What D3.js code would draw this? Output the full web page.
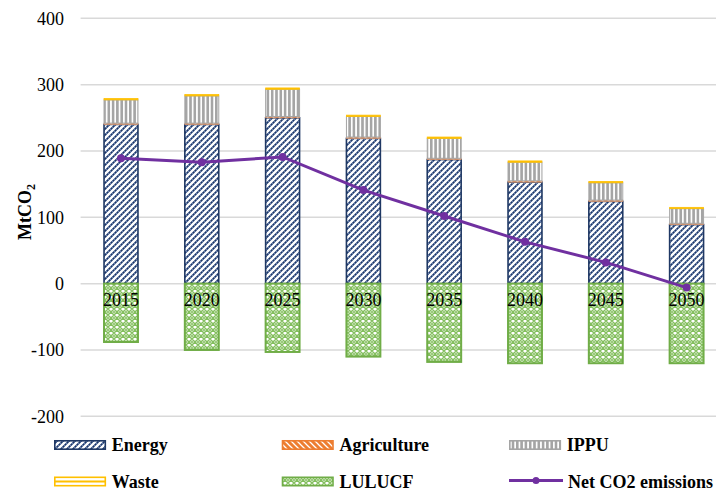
<!DOCTYPE html>
<html><head><meta charset="utf-8">
<script src="https://cdn.jsdelivr.net/npm/d3@7"></script>
<style>body{margin:0;background:#fff}svg{display:block}</style>
</head><body><svg id="c" width="716" height="493"></svg>
<script>
const years = ["2015","2020","2025","2030","2035","2040","2045","2050"];
const energy = [240, 240, 250, 219, 187, 153, 124, 89];
const agriculture = [2, 2, 2, 2, 2, 2, 2, 2];
const ippu = [35, 41, 41, 31, 30, 28, 26, 22];
const waste = [2, 2, 2, 2, 2, 2, 2, 2];
const lulucf = [-88, -100, -103, -110, -118, -120, -120, -120];
const netCO2 = [189, 183, 191, 141, 102, 63, 32, -6];
const yTicks = [400, 300, 200, 100, 0, -100, -200];
const seriesNames = ["Energy","Agriculture","IPPU","Waste","LULUCF","Net CO2 emissions"];

const svg = d3.select("#c");
const serif = "'Liberation Serif','Times New Roman',serif";
const defs = svg.append("defs");

// Energy pattern: "/" diagonal dashed-navy lines
let p = defs.append("pattern").attr("id","pEnergy").attr("patternUnits","userSpaceOnUse").attr("width",6).attr("height",6);
p.append("rect").attr("width",6).attr("height",6).attr("fill","#fff");
p.append("path").attr("d","M-1,7 L7,-1 M-4,4 L4,-4 M2,10 L10,2").attr("stroke","#6a83b5").attr("stroke-width",1.8);
p.append("path").attr("d","M-1,7 L7,-1 M-4,4 L4,-4 M2,10 L10,2").attr("stroke","#1F3864").attr("stroke-width",1.8).attr("stroke-dasharray","1.6,1.2");
// Agriculture
p = defs.append("pattern").attr("id","pAgri").attr("patternUnits","userSpaceOnUse").attr("width",6).attr("height",6);
p.append("rect").attr("width",6).attr("height",6).attr("fill","#ED7D31");
p.append("path").attr("d","M-1,-1 L7,7 M-4,2 L2,8 M2,-4 L8,2").attr("stroke","#fff").attr("stroke-width",1.3);
// IPPU
p = defs.append("pattern").attr("id","pIppu").attr("patternUnits","userSpaceOnUse").attr("width",4.3).attr("height",4);
p.append("rect").attr("width",4.3).attr("height",4).attr("fill","#fff");
p.append("rect").attr("width",2.6).attr("height",4).attr("fill","#a5a5a5");
// LULUCF
p = defs.append("pattern").attr("id","pLulucf").attr("patternUnits","userSpaceOnUse").attr("width",6).attr("height",6);
p.append("rect").attr("width",6).attr("height",6).attr("fill","#fff");
p.append("path").attr("d","M0,3 L3,0 L6,3 L3,6 Z").attr("fill","none").attr("stroke","#84bf5f").attr("stroke-width",1.5);
[[0,0],[6,0],[0,6],[6,6]].forEach(c=>p.append("circle").attr("cx",c[0]).attr("cy",c[1]).attr("r",1.1).attr("fill","#84bf5f"));

const y = d3.scaleLinear().domain([-200,400]).range([416.3,18.3]);
const x = d3.scaleBand().domain(years).range([80.6,727]).paddingInner(0.58).paddingOuter(0.29);

// grid
svg.append("g").selectAll("line").data(yTicks).join("line")
  .attr("x1",80.6).attr("x2",716).attr("y1",d=>y(d)).attr("y2",d=>y(d))
  .attr("stroke","#d9d9d9").attr("stroke-width",1.5);

// y labels
svg.append("g").selectAll("text").data(yTicks).join("text")
  .attr("x",64).attr("y",d=>y(d)).attr("dy","0.35em").attr("text-anchor","end")
  .attr("font-family",serif).attr("font-size",18).attr("fill","#000").text(d=>d);

// y title
const yt = svg.append("text").attr("transform","translate(31,212) rotate(-90)")
  .attr("text-anchor","middle").attr("font-family",serif).attr("font-size",18).attr("font-weight","bold");
yt.append("tspan").text("MtCO");
yt.append("tspan").attr("font-size",12).attr("dy",4).text("2");

// stacked positives
const stackSeries = [
  {vals: energy, fill:"url(#pEnergy)", stroke:"#1F3864", sw:1.6},
  {vals: agriculture, fill:"url(#pAgri)", stroke:"#d99a74", sw:0.8},
  {vals: ippu, fill:"url(#pIppu)", stroke:"#a5a5a5", sw:1},
  {vals: waste, fill:"#FFC000", stroke:"#FFC000", sw:0.8}
];
const bw = x.bandwidth();
const base = years.map(()=>0);
stackSeries.forEach(s=>{
  const starts = base.slice();
  svg.append("g").selectAll("rect").data(years).join("rect")
    .attr("x",d=>x(d)).attr("width",bw)
    .attr("y",(d,i)=>y(starts[i]+s.vals[i])).attr("height",(d,i)=>y(starts[i])-y(starts[i]+s.vals[i]))
    .attr("fill",s.fill).attr("stroke",s.stroke).attr("stroke-width",s.sw);
  years.forEach((d,i)=>base[i]+=s.vals[i]);
});
// LULUCF
svg.append("g").selectAll("rect").data(years).join("rect")
  .attr("x",d=>x(d)).attr("width",bw)
  .attr("y",y(0)).attr("height",(d,i)=>y(lulucf[i])-y(0))
  .attr("fill","url(#pLulucf)").attr("stroke","#70AD47").attr("stroke-width",2);

// x labels
svg.append("g").selectAll("text").data(years).join("text")
  .attr("x",d=>x(d)+bw/2).attr("y",y(0)+22).attr("text-anchor","middle")
  .attr("font-family",serif).attr("font-size",18).attr("fill","#000").text(d=>d);

// net line
const line = d3.line().x((d,i)=>x(years[i])+bw/2).y(d=>y(d));
svg.append("path").datum(netCO2).attr("d",line).attr("fill","none").attr("stroke","#7030A0").attr("stroke-width",3);
svg.append("g").selectAll("circle").data(netCO2).join("circle")
  .attr("cx",(d,i)=>x(years[i])+bw/2).attr("cy",d=>y(d)).attr("r",4).attr("fill","#7030A0");

// legend
const legPos = [[54,445],[281.7,445],[509,445],[54,481.5],[281.7,481.5],[509,481.5]];
const lg = svg.append("g");
seriesNames.forEach((n,i)=>{
  const [lx,ly]=legPos[i];
  const g = lg.append("g");
  if(i===0) g.append("rect").attr("x",lx+0.8).attr("y",ly-4.2).attr("width",50.5).attr("height",8.4).attr("fill","url(#pEnergy)").attr("stroke","#1F3864").attr("stroke-width",1.6);
  if(i===1) g.append("rect").attr("x",lx+0.8).attr("y",ly-4.2).attr("width",50.5).attr("height",8.4).attr("fill","url(#pAgri)").attr("stroke","#ED7D31").attr("stroke-width",1.6);
  if(i===2) g.append("rect").attr("x",lx+0.8).attr("y",ly-4.2).attr("width",50.5).attr("height",8.4).attr("fill","url(#pIppu)").attr("stroke","#a5a5a5").attr("stroke-width",1.6);
  if(i===3){
    g.append("rect").attr("x",lx+0.8).attr("y",ly-4.2).attr("width",50.5).attr("height",8.4).attr("fill","#fff").attr("stroke","#FFC000").attr("stroke-width",1.6);
    g.append("line").attr("x1",lx).attr("x2",lx+52).attr("y1",ly).attr("y2",ly).attr("stroke","#FFC000").attr("stroke-width",1.8);
  }
  if(i===4) g.append("rect").attr("x",lx+0.8).attr("y",ly-4.2).attr("width",50.5).attr("height",8.4).attr("fill","url(#pLulucf)").attr("stroke","#70AD47").attr("stroke-width",1.6);
  if(i===5){
    g.append("line").attr("x1",lx).attr("x2",lx+54).attr("y1",ly-1).attr("y2",ly-1).attr("stroke","#7030A0").attr("stroke-width",3);
    g.append("circle").attr("cx",lx+27).attr("cy",ly-1).attr("r",3.5).attr("fill","#7030A0");
  }
  g.append("text").attr("x",lx+(i===5?59:57.7)).attr("y",ly).attr("dy","0.35em")
    .attr("font-family",serif).attr("font-size",18).attr("font-weight","bold").attr("fill","#000").text(n);
});
</script></body></html>
